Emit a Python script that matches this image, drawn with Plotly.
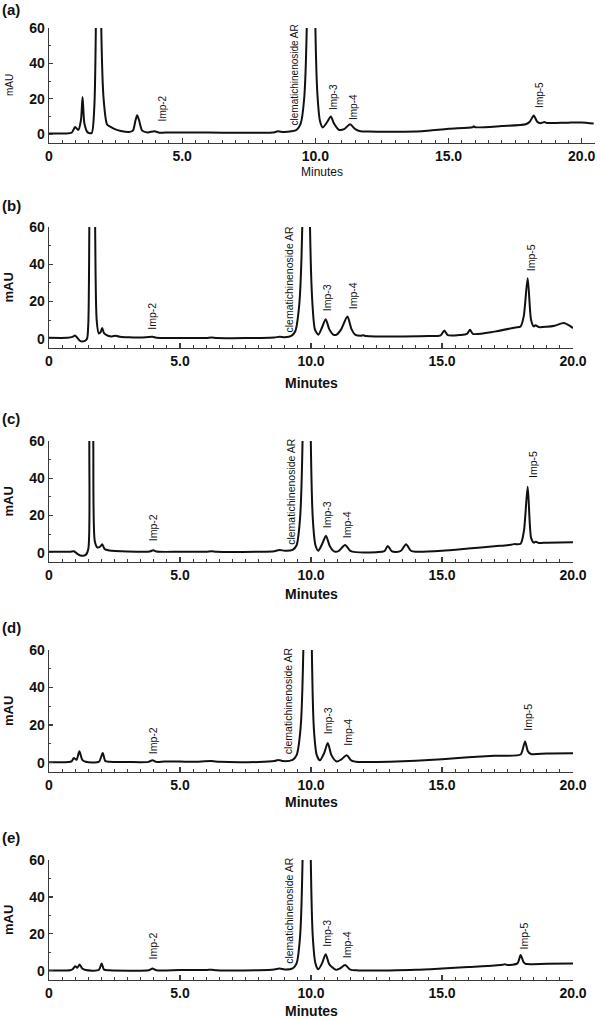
import plotly.graph_objects as go

# ---------------- data ----------------
panel_letters = ["(a)", "(b)", "(c)", "(d)", "(e)"]

t_a = [0.0, 0.6, 0.85, 0.98, 1.1, 1.2, 1.26, 1.33, 1.45, 1.6, 1.7, 1.76, 1.86, 1.96, 2.05, 2.18, 2.3, 2.45,
       2.7, 3.0, 3.15, 3.25, 3.31, 3.38, 3.5, 3.7, 3.96, 4.15, 4.5, 5.0, 6.0, 7.0, 8.0, 8.4, 8.6, 8.8, 9.1,
       9.3, 9.45, 9.58, 9.68, 9.85, 10.0, 10.08, 10.18, 10.28, 10.45, 10.58, 10.7, 10.88, 11.1, 11.3, 11.5,
       11.7, 12.0, 13.0, 14.0, 15.0, 15.9, 15.95, 16.0, 17.0, 17.9, 18.05, 18.2, 18.33, 18.45, 18.6, 18.7,
       19.0, 19.5, 20.0, 20.45]
y_a = [0.4, 0.4, 0.8, 4.0, 2.4, 8, 21, 6, 1.0, 0.6, 15, 62, 400, 62, 20, 5.5, 4.2, 3.0,
       1.8, 1.2, 2.0, 8, 10.7, 8, 2.0, 1.0, 1.6, 0.8, 1.0, 0.9, 0.9, 0.8, 0.8, 0.9, 1.6, 1.2, 1.6,
       2.5, 6, 20, 62, 500, 62, 22, 7, 3.8, 7, 10.0, 6, 2.5, 3.0, 5.6, 2.8,
       1.6, 1.5, 1.3, 1.6, 3.0, 3.9, 4.4, 3.9, 4.6, 5.6, 7, 10.5, 7, 6.2, 6.8, 6.3,
       6.3, 6.5, 6.6, 6.0]

t_b = [0.0, 0.7, 0.9, 0.99, 1.08, 1.2, 1.35, 1.45, 1.5, 1.54, 1.65, 1.76, 1.82, 1.9, 1.97, 2.03, 2.1,
       2.25, 2.4, 2.55, 2.7, 3.0, 3.5, 3.95, 4.1, 5.0, 6.0, 6.2, 6.4, 7.0, 8.0, 8.6, 8.8, 9.0, 9.25, 9.4,
       9.55, 9.67, 9.82, 9.96, 10.05, 10.15, 10.28, 10.42, 10.56, 10.7, 10.85, 10.98, 11.15, 11.39, 11.55,
       11.7, 11.9, 12.0, 12.1, 12.5, 13.5, 14.5, 14.95, 15.09, 15.22, 15.7, 15.95, 16.07, 16.18, 17.0,
       17.8, 18.0, 18.12, 18.27, 18.4, 18.5, 18.57, 18.7, 19.0, 19.3, 19.65, 19.85, 20.0]
y_b = [0.5, 0.5, 1.0, 1.7, 0.5, -1.3, -1.3, 0, 8, 62, 400, 62, 10, 2.8, 3.5, 5.7, 3,
       1.6, 1.2, 1.6, 1.0, 0.8, 0.6, 1.0, 0.5, 0.4, 0.4, 0.7, 0.4, 0.3, 0.4, 0.6, 1.1, 0.8, 1.5, 4,
       18, 62, 500, 62, 20, 5, 2.1, 6, 10.5, 5, 2.2, 2.2, 5, 11.9, 5,
       2, 1.6, 1.8, 1.4, 1.2, 1.2, 1.4, 1.8, 4.4, 1.9, 2.0, 2.6, 4.8, 2.6, 3.8,
       6.0, 6.6, 12, 32.5, 10, 6.6, 7.2, 6.2, 6.4, 7.0, 8.4, 7.2, 5.7]

t_c = [0.0, 0.8, 0.95, 1.08, 1.2, 1.4, 1.5, 1.54, 1.62, 1.69, 1.75, 1.85, 1.95, 2.03, 2.12, 2.3, 3.0,
       3.85, 3.98, 4.1, 5.0, 6.0, 6.2, 6.4, 8.0, 8.6, 8.8, 9.0, 9.3, 9.45, 9.58, 9.68, 9.84, 9.99, 10.07,
       10.17, 10.28, 10.42, 10.57, 10.72, 10.9, 11.05, 11.3, 11.5, 11.7, 12.5, 12.8, 12.93, 13.08, 13.25,
       13.45, 13.63, 13.8, 14.0, 15.0, 16.0, 17.0, 17.5, 17.75, 18.0, 18.13, 18.27, 18.4, 18.5, 18.58,
       18.7, 19.0, 20.0]
y_c = [0.5, 0.5, 0.8, -0.6, -1.5, -1.2, 2, 62, 400, 62, 6, 2.8, 3.2, 4.6, 2, 1.2, 0.7,
       0.7, 1.3, 0.6, 0.5, 0.5, 0.8, 0.5, 0.5, 0.8, 1.5, 1.0, 1.5, 4, 18, 62, 500, 62, 18,
       4, 1.1, 4.5, 9.1, 3.5, 0.6, 0.8, 4.1, 1.0, 0.3, 0.3, 0.8, 3.6, 0.8, 0.4,
       1.2, 4.6, 1.2, 0.5, 1.0, 2.2, 3.5, 4.0, 4.6, 4.8, 12, 35.4, 8, 5.4, 5.9,
       5.2, 5.4, 5.6]

t_d = [0.0, 0.75, 0.87, 0.95, 1.05, 1.16, 1.27, 1.4, 1.9, 2.05, 2.15, 2.3, 3.0, 3.8, 3.95, 4.1, 4.4,
       5.0, 5.5, 6.2, 6.5, 8.0, 8.6, 8.75, 8.95, 9.3, 9.45, 9.6, 9.71, 9.87, 10.03, 10.11, 10.22, 10.34,
       10.5, 10.64, 10.78, 10.98, 11.15, 11.36, 11.55, 11.8, 12.0, 13.0, 14.0, 15.0, 16.0, 17.0, 18.0,
       18.08, 18.17, 18.28, 18.4, 19.0, 20.0]
y_d = [0.2, 0.3, 0.8, 2.5, 1.5, 6, 1.5, 0.5, 0.4, 5.1, 0.8, 0.4, 0.3, 0.4, 1.3, 0.4, 0.6,
       0.6, 0.4, 0.8, 0.4, 0.3, 0.8, 1.4, 0.8, 1.5, 4, 18, 62, 500, 62, 18, 4, 1.2,
       5, 10.5, 4, 0.6, 1.6, 3.9, 1.0, 0.3, 0.3, 0.5, 1.0, 1.8, 2.8, 3.6, 4.3,
       7, 11.3, 6, 4.6, 4.9, 5.0]

t_e = [0.0, 0.8, 0.9, 1.0, 1.08, 1.17, 1.27, 1.4, 1.9, 2.01, 2.1, 2.3, 3.8, 3.95, 4.1, 5.0, 6.0, 6.2,
       6.4, 8.0, 8.6, 8.8, 9.0, 9.3, 9.45, 9.58, 9.68, 9.84, 9.99, 10.07, 10.17, 10.28, 10.42, 10.56,
       10.7, 10.95, 11.1, 11.3, 11.5, 11.8, 12.0, 13.0, 14.0, 15.0, 16.0, 17.0, 17.3, 17.4, 17.5, 17.88,
       18.0, 18.12, 18.2, 18.3, 19.0, 20.0]
y_e = [0.2, 0.3, 0.8, 2.5, 1.6, 3.4, 1.2, 0.4, 0.4, 4.0, 0.6, 0.3, 0.3, 1.2, 0.3, 0.4, 0.4, 0.6,
       0.3, 0.3, 0.7, 1.2, 0.7, 1.3, 4, 18, 62, 500, 62, 18, 4, 0.8, 4, 9,
       3.5, 0.5, 1.2, 3.1, 0.6, 0.2, 0.2, 0.2, 0.5, 1.2, 2.0, 2.8, 3.2, 3.5, 3.1, 4.0,
       8.5, 4.5, 3.7, 3.6, 3.8, 4.0]

peak_names = ["Imp-2", "clematichinenoside AR", "Imp-3", "Imp-4", "Imp-5"]
label_x_a = [4.25, 9.23, 10.71, 11.46, 18.39]
label_y_a = [6.2, 4.0, 12.6, 7.0, 13.6]
label_x_b = [3.92, 9.17, 10.60, 11.61, 18.38]
label_y_b = [3.9, 2.1, 13.8, 14.6, 35.2]
label_x_c = [3.98, 9.26, 10.64, 11.36, 18.45]
label_y_c = [5.0, 3.2, 12.2, 6.8, 39.0]
label_x_d = [3.98, 9.13, 10.66, 11.42, 18.29]
label_y_d = [3.3, 3.3, 14.0, 7.8, 15.8]
label_x_e = [3.98, 9.13, 10.60, 11.36, 18.14]
label_y_e = [4.9, 2.5, 12.1, 5.8, 10.3]

x_tick_vals = [0, 5, 10, 15, 20]
x_tick_text = ["0", "5.0", "10.0", "15.0", "20.0"]
y_tick_vals = [0, 20, 40, 60]
y_tick_text = ["0", "20", "40", "60"]
x_title = "Minutes"
y_title = "mAU"

# ---------------- layout geometry (pixels in a 600 x 1019 page) ----------------
W, H = 600, 1019
panels = [
    dict(t=t_a, y=y_a, lx=label_x_a, ly=label_y_a, top=28, bot=143, left=49, right=595, xmax=20.5,
         letter_y=9, xt_y=172, xt_x=322, yt_x=9.5, small=True, lab_size=10),
    dict(t=t_b, y=y_b, lx=label_x_b, ly=label_y_b, top=227, bot=348, left=49, right=573, xmax=20.0,
         letter_y=205, xt_y=383, xt_x=311, yt_x=8, small=False, lab_size=10.5),
    dict(t=t_c, y=y_c, lx=label_x_c, ly=label_y_c, top=441, bot=562, left=49, right=573, xmax=20.0,
         letter_y=418, xt_y=594, xt_x=311, yt_x=8, small=False, lab_size=10.5),
    dict(t=t_d, y=y_d, lx=label_x_d, ly=label_y_d, top=650, bot=772, left=49, right=573, xmax=20.0,
         letter_y=627, xt_y=802, xt_x=311, yt_x=8, small=False, lab_size=10.5),
    dict(t=t_e, y=y_e, lx=label_x_e, ly=label_y_e, top=860, bot=980, left=49, right=573, xmax=20.0,
         letter_y=837, xt_y=1011, xt_x=311, yt_x=8, small=False, lab_size=10.5),
]

FONT = "Liberation Sans, Arial, sans-serif"
AXC = "#3a3a3a"

fig = go.Figure()
layout = dict(width=W, height=H, margin=dict(l=0, r=0, t=0, b=0),
              paper_bgcolor="white", plot_bgcolor="white", showlegend=False,
              font=dict(family=FONT, color="black"))
annotations = []

for i, p in enumerate(panels):
    n = "" if i == 0 else str(i + 1)
    xa, ya = "x" + n, "y" + n
    fig.add_trace(go.Scatter(x=p["t"], y=p["y"], mode="lines", xaxis=xa, yaxis=ya,
                             line=dict(color="#111111", width=2.0, shape="spline", smoothing=0.7),
                             hoverinfo="skip"))
    layout["xaxis" + n] = dict(
        domain=[p["left"] / W, p["right"] / W], anchor=ya, range=[0, p["xmax"]],
        showgrid=False, zeroline=False, showline=True, linecolor=AXC, linewidth=1.3,
        tickmode="array", tickvals=x_tick_vals, ticktext=x_tick_text,
        ticks="inside", ticklen=5, tickwidth=1.2, tickcolor=AXC,
        minor=dict(dtick=0.5, ticks="inside", ticklen=3, tickwidth=1, tickcolor=AXC),
        tickfont=dict(family=FONT, size=14, weight="bold", color="#111"),
        automargin=False, fixedrange=True)
    layout["yaxis" + n] = dict(
        domain=[1 - p["bot"] / H, 1 - p["top"] / H], anchor=xa, range=[-5, 60],
        showgrid=False, zeroline=False, showline=True, linecolor=AXC, linewidth=1.3,
        tickmode="array", tickvals=y_tick_vals, ticktext=y_tick_text,
        ticks="inside", ticklen=4, tickwidth=1.2, tickcolor=AXC,
        minor=dict(dtick=10, ticks="inside", ticklen=2, tickwidth=1, tickcolor=AXC),
        tickfont=dict(family=FONT, size=14, weight="bold", color="#111"),
        automargin=False, fixedrange=True)

    # peak labels (rotated, bottom anchored at given data point)
    for name, lx, ly in zip(peak_names, p["lx"], p["ly"]):
        annotations.append(dict(x=lx, y=ly, xref=xa, yref=ya, text=name, showarrow=False,
                                textangle=-90, xanchor="center", yanchor="bottom",
                                font=dict(family=FONT, size=p["lab_size"], color="#111")))
    # panel letter
    annotations.append(dict(x=0, y=1 - p["letter_y"] / H, xref="paper", yref="paper",
                            text=panel_letters[i], showarrow=False, xanchor="left", yanchor="middle",
                            font=dict(family=FONT, size=15, weight="bold", color="#111")))
    # axis titles
    annotations.append(dict(x=p["xt_x"] / W, y=1 - p["xt_y"] / H, xref="paper", yref="paper",
                            text=x_title, showarrow=False, xanchor="center", yanchor="middle",
                            font=dict(family=FONT, size=12 if p["small"] else 14,
                                      weight="normal" if p["small"] else "bold", color="#111")))
    annotations.append(dict(x=p["yt_x"] / W, y=1 - (p["top"] + p["bot"]) / 2 / H, xref="paper",
                            yref="paper", text=y_title, showarrow=False, textangle=-90,
                            xanchor="center", yanchor="middle",
                            font=dict(family=FONT, size=10 if p["small"] else 13,
                                      weight="normal" if p["small"] else "bold", color="#111")))

layout["annotations"] = annotations
fig.update_layout(**layout)

fig.write_html("out.html", include_plotlyjs=True, full_html=True,
               config={"displayModeBar": False, "staticPlot": True},
               post_script="document.body.style.margin='0';")
